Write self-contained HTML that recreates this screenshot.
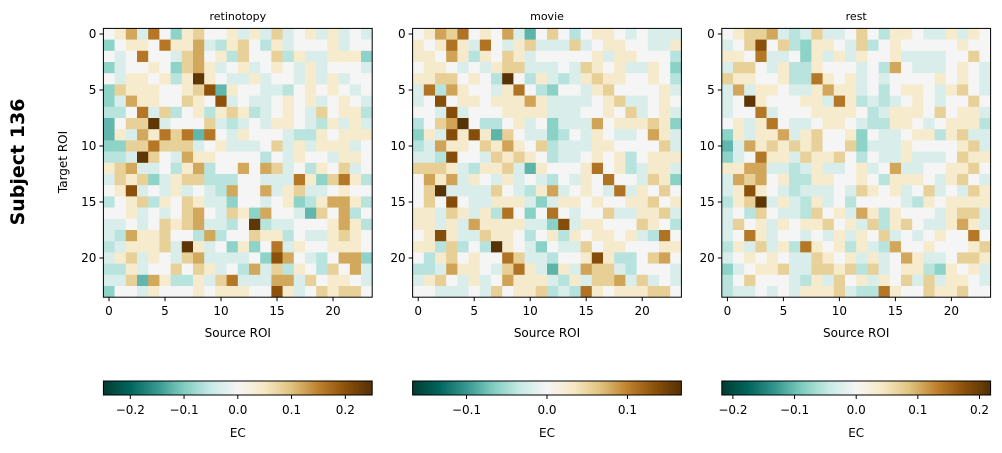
<!DOCTYPE html>
<html><head><meta charset="utf-8"><style>
body{margin:0;background:#fff;width:1002px;height:448px;overflow:hidden}
svg text{font-family:"DejaVu Sans","Liberation Sans",sans-serif;fill:#000}
</style></head><body>
<svg id="fig" width="1002" height="448" xmlns="http://www.w3.org/2000/svg"></svg>
<script>
// level codes: a..d = -4..-1, 0..6 = 0..6 ; value = level * step (negatives scaled by negScale)
const titles=["retinotopy","movie","rest"];
const vmaxs=[0.25,0.167,0.218];
const steps=[0.04,0.0275,0.035];
const negScale=0.75;
const cbTicks=[[-0.2,-0.1,0.0,0.1,0.2],[-0.1,0.0,0.1],[-0.2,-0.1,0.0,0.1,0.2]];
const axisTicks=[0,5,10,15,20];
const retinotopy=[
"013d40b12001d1d2d01d1d0d","b01104113dc120c1d0001d00","0d0400d2301c2002c1dd111b","bd0010b231d01d010d1d000d",
"0d1101c1610dd1d00d1d1d00","b211100125a100ddc01010d0","bd311002105d0dd0101d010d","cc04d2c01c121cd010d2011c",
"a0226d0002dcd0d110dc1d1d","a1d31424a40d1000dcc10111","bb224222d01ddd02d1d111d","ccd620d3110000c0d100d110",
"123dd0c13c003032d0c102d","d212bd122ccc00ddd41b241c","015d0d1d0dc3003d12dd010","c012c1021ddb00d01bc1331c",
"001d0d0230d21b300da203c","dd0d02123ddc06cdd00013 1c","dc311200c3c002 11c0dd121","cd1112d61d0b1b04d1001110",
"d12d10d23dddd0b530dc033b","cc1d0020 21d0c3d2c10c203d","dd2a31cc1d24ddd33d20110d","b00d10001011100 51d02122 0"];
const movie=[
"0132401 03da02 0c0110d0ddd","10141d40d12ddd2d0110 0dd1c","110 31c1021d00000 1d1100 0c","01 10d0d122ddd0d210 1dd10b",
"11220 10c60c1dcd1211001 0c","d4c3100d140cb00d1 200001d","d050110111 31dddd012dd010","00d5d0001111ddd0010 2d01d",
"c0236 0cc01d0bddd30111 21b","b1d515 1a20ddbc0d10dd031d","cd311021310 2cddd1100002d","ddc500d21210cdd01 01c0111",
"2221dc112da1000140 1cd11d","0313d10d1d0dc0d1040 0d21b","026dddd20dc13d010d4d1020","02050dd111db d1101001120 1",
"11d21d1c40b040d002dd112d","11d1d31111ddb5d110002 10c","015 1dd2110c01c1011 01dc40","11c2c0c610db0dd2011000 11",
"0c120100 42ddc00151cc0230","ccd3110d241da1d322dc000d","d120d1d0311 1dc1d223d2d0d","00ddd0d2011 2cdc41011122 0"];
const rest=[
"01223dcd2dd020c110dd1d10","d025 02cb110d2c0100000 100","110 4dd0b1d1d1001dddd0020","d220 d1cc1000d0c30ddd010d",
"21100 1cc410 1d0d00001010dd","d3d110dd1311d0c0110d120d","d061000 11d41cdcd010d0020","d004d0001111 0cd1110 2011d",
"01d140dd0110dcc110d0111c","b1d113d1200 1b0dd011c12dd","ad31212120 02bddd10000 12d","bd0411d211 20c0dd1ddd0211",
"1133ddcd1dd01d03dd00112 0","d3230 1cc1100 10c1110d120d","d151 0dcddd0d210 1d02d0d21","c126d1dc1d0c0000dc101111",
"d0c20ddc201d31c1000d122d","d201d1011201d2c120dd131d","d041d00d0d1d102d0d01004 0","c1d2d1c4101c1dc3001000 12",
"d0101 0dd210 1d1d031dd0221","bd01 12dd2212c2d011cb101d","c02000dc1d201d102d2d110d","cdd0d0d1112dcc410021120 0"];
const panels=[retinotopy,movie,rest];

const stops=["#543005","#8c510a","#bf812d","#dfc27d","#f6e8c3","#f5f5f5","#c7eae5","#80cdc1","#35978f","#01665e","#003c30"];
function hx(c){return [1,3,5].map(i=>parseInt(c.substr(i,2),16));}
function cmap(t){
  let u=1-Math.max(0,Math.min(1,t));let p=u*10,i=Math.min(9,Math.floor(p)),f=p-i;
  let a=hx(stops[i]),b=hx(stops[i+1]);
  return "rgb("+a.map((v,k)=>Math.round(v+(b[k]-v)*f)).join(",")+")";}
function lvl(ch){const m={a:-4,b:-3,c:-2,d:-1};return ch in m?m[ch]:parseInt(ch);}
function parseRow(s){return s.replace(/\s/g,"").split("").map(lvl);}

const NS="http://www.w3.org/2000/svg",svg=document.getElementById("fig");
function mk(tag,attrs,parent){const e=document.createElementNS(NS,tag);for(const k in attrs)e.setAttribute(k,attrs[k]);(parent||svg).appendChild(e);return e;}
const lefts=[103.4,412.6,721.8],top0=28.4,cw=11.2,N=24;
function txt(x,y,s,size,anchor,parent,extra){const t=mk("text",Object.assign({x:x,y:y,"font-size":size,"text-anchor":anchor||"middle"},extra||{}),parent);t.textContent=s;return t;}

panels.forEach((rows,p)=>{
  const L=lefts[p],vmax=vmaxs[p],step=steps[p];
  const g=mk("g",{});
  
  
  const xs=i=>L+i*cw, ys=j=>top0+j*cw;
  rows.forEach((r,j)=>{
    let vals=parseRow(r);while(vals.length<N)vals.push(0);vals=vals.slice(0,N);
    vals.forEach((lv,i)=>{
      const v=lv*step*(lv<0?negScale:1);
      const c=mk("rect",{x:xs(i).toFixed(2),y:ys(j).toFixed(2),width:cw+0.3,height:cw+0.3,fill:cmap((v+vmax)/(2*vmax))},g);
      
      
    });
  });
  mk("rect",{x:L,y:top0,width:N*cw,height:N*cw,fill:"none",stroke:"#000","stroke-width":1},g);
  const tt=txt(L+N*cw/2,20,titles[p],11);
  
  
  axisTicks.forEach(k=>{
    const x=xs(k+0.5);
    mk("line",{x1:x,x2:x,y1:top0+N*cw,y2:top0+N*cw+4,stroke:"#000"},g);
    const xl=txt(x,top0+N*cw+18,String(k),12);
    
    
    const y=ys(k+0.5);
    mk("line",{x1:L-4,x2:L,y1:y,y2:y,stroke:"#000"},g);
    const yl=txt(L-7,y+4,String(k),12,"end");
    
    
  });
  const xt=txt(L+N*cw/2,337,"Source ROI",12);
  
  
  const cb=mk("g",{});
  
  
  const cbW=N*cw,cbY=381,cbH=14,gid="gr"+p;
  const lg=mk("linearGradient",{id:gid,x1:0,x2:1,y1:0,y2:0},mk("defs",{},cb));
  for(let k=0;k<=20;k++)mk("stop",{offset:k/20,"stop-color":cmap(k/20)},lg);
  mk("rect",{x:L,y:cbY,width:cbW,height:cbH,fill:"url(#"+gid+")",stroke:"#000","stroke-width":1},cb);
  cbTicks[p].forEach(v=>{
    const x=L+(v+vmax)/(2*vmax)*cbW;
    mk("line",{x1:x,x2:x,y1:cbY+cbH,y2:cbY+cbH+4,stroke:"#000"},cb);
    const l=txt(x,cbY+cbH+19,(v<0?"\u2212":"")+Math.abs(v).toFixed(1),12,"middle",cb);
    
    
  });
  const ec=txt(L+cbW/2,437,"EC",12,"middle",cb);
  
  
});
const yt=txt(0,0,"Target ROI",12,"middle",svg,{transform:"translate(67,162) rotate(-90)"});


const st=txt(0,0,"Subject 136",19,"middle",svg,{transform:"translate(24,162) rotate(-90)","font-weight":"bold"});


</script>
</body></html>
